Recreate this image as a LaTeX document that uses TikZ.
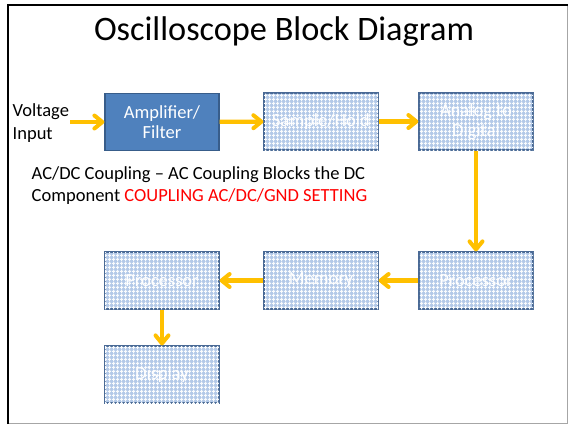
\documentclass[tikz,border=0pt]{standalone}
\usepackage{fontspec}
\setmainfont{Carlito}
\usetikzlibrary{arrows.meta,patterns.meta}
\definecolor{arrowgold}{HTML}{FFC000}
\definecolor{boxblue}{HTML}{4F81BD}
\definecolor{boxedge}{HTML}{385D8A}
\definecolor{gridfill}{HTML}{B3C9E8}
\definecolor{hatchedge}{HTML}{4A6A96}
\pgfdeclarepattern{
  name=finegrid,
  parameters={},
  bottom left={\pgfpoint{0pt}{0pt}},
  top right={\pgfpoint{4pt}{4pt}},
  tile size={\pgfpoint{4pt}{4pt}},
  tile transformation={},
  code={
    \pgfsetlinewidth{1pt}
    \pgfpathmoveto{\pgfpoint{2pt}{0pt}}\pgfpathlineto{\pgfpoint{2pt}{4pt}}
    \pgfpathmoveto{\pgfpoint{0pt}{2pt}}\pgfpathlineto{\pgfpoint{4pt}{2pt}}
    \pgfusepath{stroke}
  }
}
\tikzset{
  solidbox/.style={draw=boxedge, line width=1.2pt, fill=boxblue,
    minimum width=114pt, minimum height=57pt, align=center,
    text=white, font=\fontsize{18.5}{20}\selectfont, inner sep=2pt},
  gridbox/.style={draw=hatchedge, line width=1.2pt, fill=gridfill,
    postaction={pattern=finegrid, pattern color=white!92!gridfill},
    minimum width=114pt, minimum height=57pt, align=center,
    text=white, font=\fontsize{18.5}{20}\selectfont, inner sep=2pt},
  flow/.style={draw=arrowgold, line width=4.2pt,
    -{Straight Barb[length=8pt,width=13pt,line width=4pt,round]}},
  plain/.style={font=\fontsize{18.5}{22.5}\selectfont, inner sep=1pt}
}
\begin{document}
\begin{tikzpicture}[x=1pt,y=-1pt]
  \useasboundingbox (0,0) rectangle (568,424);
  \fill[white] (0,0) rectangle (568,424);
  % slide frame
  \draw[gray!70, line width=1pt] (8,423.5) -- (567.5,423.5) -- (567.5,5);
  \draw[black, line width=2.6pt] (8,424) -- (8,5) -- (568,5);

  % title
  \node (title) at (284,32) {\fontsize{34.3}{38}\selectfont Oscilloscope Block Diagram};

  % blocks
  \node[solidbox] (amp) at (162,122) {Amplifier/\\Filter};
  \node[gridbox] (sh)  at (321,121.5) {Sample/Hold};
  \node[gridbox] (adc) at (476,121.5) {Analog to\\Digital};
  \node[gridbox] (procR) at (476,280.5) {Processor};
  \node[gridbox] (mem) at (321,280.5) {Memory};
  \node[gridbox] (procL) at (162,280.5) {Processor};
  \node[gridbox] (disp) at (162,374.5) {Display};

  % labels
  \node[plain, anchor=west, align=left] (vin) at (11.5,123) {Voltage\\Input};
  \node[plain, anchor=north west, align=left] (note) at (30.5,165)
    {AC/DC Coupling – AC Coupling Blocks the DC\\
     Component \textcolor{red}{COUPLING AC/DC/GND SETTING}};

  % signal path
  \draw[flow] (vin.east |- amp.west) -- (amp.west);
  \draw[flow] (amp) -- (sh);
  \draw[flow] (sh) -- (adc);
  \draw[flow] (adc) -- (procR);
  \draw[flow] (procR) -- (mem);
  \draw[flow] (mem) -- (procL);
  \draw[flow] (procL) -- (disp);
\end{tikzpicture}
\end{document}
